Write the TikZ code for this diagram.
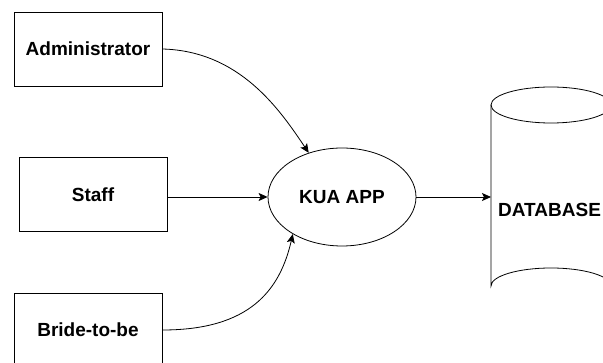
\documentclass[tikz,border=0pt]{standalone}
\usepackage{fontspec}
\setmainfont{Liberation Sans}
\usetikzlibrary{arrows.meta,shapes.geometric}
\begin{document}
\begin{tikzpicture}[x=1pt,y=-1pt,
  box/.style={draw, line width=0.8pt, minimum width=148pt, minimum height=74pt, inner sep=0pt, font=\fontsize{19}{22}\selectfont\bfseries},
  proc/.style={draw, ellipse, line width=0.8pt, minimum width=148pt, minimum height=98pt, inner sep=0pt, font=\fontsize{19}{22}\selectfont\bfseries},
  conn/.style={line width=0.8pt, -{Stealth[length=9pt,width=8pt,inset=2pt]}},
  lbl/.style={font=\fontsize{19}{22}\selectfont\bfseries, inner sep=0pt}]
\useasboundingbox (0,0) rectangle (603,363);
\node[box] (adm) at (88,49) {Administrator};
\node[box] (staff) at (93,194.5) {Staff};
\node[box] (bride) at (88,330) {Bride-to-be};
\node[proc] (app) at (342,197) {KUA APP};
% database cylinder
\draw[line width=0.8pt] (491,105) -- (491,286) arc[start angle=180, end angle=360, x radius=60, y radius=18] -- (611,105);
\draw[line width=0.8pt] (551,105) ellipse[x radius=60, y radius=18];
\coordinate (dbin) at (491,197);
\node[lbl, anchor=west] (db) at (498,210) {DATABASE};
% connectors
\draw[conn] (adm.east) .. controls (240,51) and (280,110) .. (app.127);
\draw[conn] (staff.east |- app.west) -- (app.west);
\draw[conn] (bride.east) .. controls (250,330) and (280,290) .. (app.217);
\draw[conn] (app.east) -- (dbin);
\end{tikzpicture}
\end{document}
